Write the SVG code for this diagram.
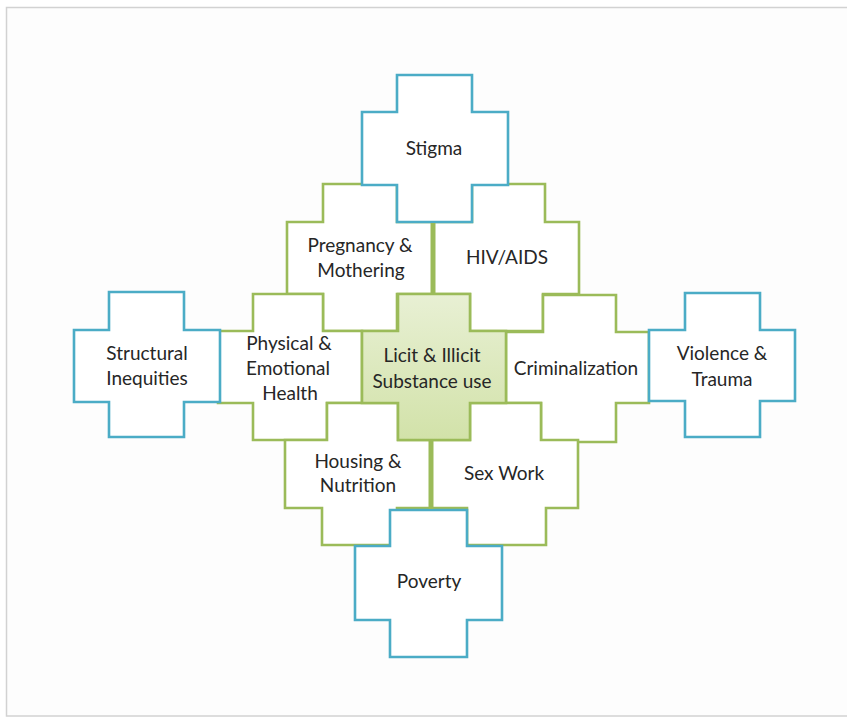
<svg xmlns="http://www.w3.org/2000/svg" width="847" height="719" viewBox="0 0 847 719">
  <style>
    .frame { fill: #fdfdfd; stroke: #d2d2d2; stroke-width: 1.5; }
    .green { fill: #ffffff; stroke: #9bbb59; stroke-width: 2.6; stroke-linejoin: miter; }
    .core { fill: url(#coreFill); stroke: #9bbb59; stroke-width: 2.6; }
    .blue { fill: #ffffff; stroke: #4bacc6; stroke-width: 2.6; }
    .divider { stroke: #9bbb59; stroke-width: 5; }
    text { font-family: Lato, "Liberation Sans", sans-serif; font-size: 19px; fill: #262626; text-anchor: middle; }
  </style>
  <defs>
    <linearGradient id="coreFill" x1="0" y1="0" x2="0" y2="1">
      <stop offset="0" stop-color="#e8f0d4"/>
      <stop offset="1" stop-color="#d2e2a9"/>
    </linearGradient>
  </defs>

  <rect width="847" height="719" fill="#ffffff"/>
  <rect class="frame" x="6.5" y="7.5" width="900" height="708.5"/>

  <!-- inner ring of factors -->
  <g id="pregnancy">
    <path class="green" d="M323 184 H397 V222 H433 V294 H397 V331 H323 V294 H287 V222 H323 Z"/>
    <text x="360" y="252">Pregnancy &amp;</text>
    <text x="361" y="277">Mothering</text>
  </g>
  <g id="hiv">
    <path class="green" d="M472 184 H545 V222 H579 V294 H543 V331 H470 V294 H433 V222 H472 Z"/>
    <text x="507" y="264">HIV/AIDS</text>
  </g>
  <g id="physical">
    <path class="green" d="M253 294 H323 V331 H362 V403 H327 V440 H253 V403 H218 V331 H253 Z"/>
    <text x="289" y="350">Physical &amp;</text>
    <text x="288" y="375">Emotional</text>
    <text x="290" y="400">Health</text>
  </g>
  <g id="criminalization">
    <path class="green" d="M543 295 H616 V332 H649 V403 H616 V442 H541 V403 H506 V332 H543 Z"/>
    <text x="576" y="375">Criminalization</text>
  </g>
  <g id="housing">
    <path class="green" d="M327 403 H398 V440 H431 V508 H397 V545 H322 V508 H285 V440 H327 Z"/>
    <text x="358" y="468">Housing &amp;</text>
    <text x="358" y="492">Nutrition</text>
  </g>
  <g id="sexwork">
    <path class="green" d="M470 403 H541 V440 H578 V508 H546 V545 H467 V508 H431 V440 H470 Z"/>
    <text x="504" y="480">Sex Work</text>
  </g>

  <!-- central factor -->
  <g id="substance-use">
    <path class="core" d="M398 294 H470 V331 H506 V403 H470 V440 H398 V403 H362 V331 H398 Z"/>
    <text x="432" y="362">Licit &amp; Illicit</text>
    <text x="432" y="388">Substance use</text>
  </g>

  <!-- outer ring of factors -->
  <g id="stigma">
    <path class="blue" d="M397 75 H472 V112 H508 V185 H472 V222 H397 V185 H362 V112 H397 Z"/>
    <text x="434" y="155">Stigma</text>
  </g>
  <g id="structural">
    <path class="blue" d="M109 292 H184 V330 H220 V402 H184 V437 H109 V402 H74 V330 H109 Z"/>
    <text x="147" y="360">Structural</text>
    <text x="147" y="385">Inequities</text>
  </g>
  <g id="violence">
    <path class="blue" d="M685 293 H760 V330 H795 V401 H760 V437 H685 V401 H649 V330 H685 Z"/>
    <text x="722" y="360">Violence &amp;</text>
    <text x="722" y="386">Trauma</text>
  </g>
  <g id="poverty">
    <path class="blue" d="M390 510 H467 V546 H502 V620 H467 V657 H390 V620 H355 V546 H390 Z"/>
    <text x="429" y="588">Poverty</text>
  </g>

  <!-- links through the centre column -->
  <g id="connectors">
    <line class="divider" x1="433" y1="223" x2="433" y2="293"/>
    <line class="divider" x1="431" y1="441" x2="431" y2="509"/>
  </g>
</svg>
